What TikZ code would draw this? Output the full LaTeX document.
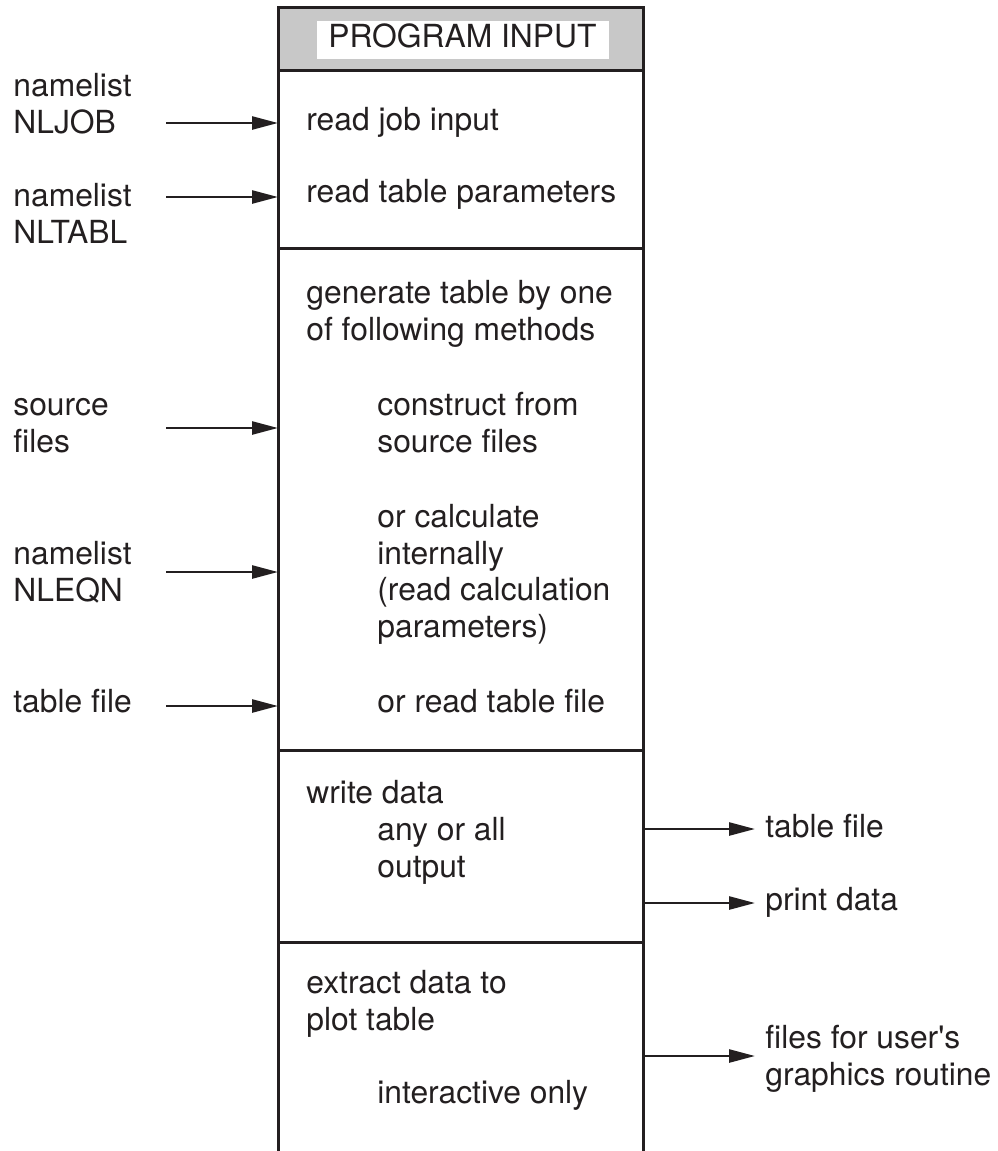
\documentclass[tikz,border=0pt]{standalone}
\usepackage{fontspec}
\setmainfont{TeX Gyre Heros}[Ligatures=TeXOff]
\usetikzlibrary{arrows.meta}
\definecolor{ink}{RGB}{35,31,32}
\definecolor{hdrgray}{RGB}{200,200,200}
\begin{document}
\begin{tikzpicture}[x=0.5pt,y=-0.5pt,
  % multi-line texts are placed by the baseline of their last line
  txt/.style={anchor=base west, inner sep=0pt, align=left,
    font=\fontsize{15.9}{18.25}\selectfont, text=ink},
  rule/.style={line width=1.5pt, draw=ink},
  arr/.style={line width=1.3pt, draw=ink,
    -{Triangle[length=13pt,width=6.5pt]}}]
\useasboundingbox (0,0) rectangle (997,1151);

% frame edges
\coordinate (L) at (278,0);
\coordinate (R) at (643,0);

% header band
\fill[hdrgray] (278,7) rectangle (643,70);
\fill[white] (317,21) rectangle (609,59);
\node[txt] (title) at (328,47) {PROGRAM INPUT};

% outline and section rules
\draw[rule] (278,1175) -- (278,7) -- (643,7) -- (643,1175);
\draw[rule] (278,70) -- (643,70);
\draw[rule] (278,248) -- (643,248);
\draw[rule] (278,750) -- (643,750);
\draw[rule] (278,942) -- (643,942);

% inputs on the left
\node[txt] (nljob)  at (13,133) {namelist\\NLJOB};
\node[txt] (nltabl) at (13,243) {namelist\\NLTABL};
\node[txt] (srcin)  at (13,452) {source\\files};
\node[txt] (nleqn)  at (13,601) {namelist\\NLEQN};
\node[txt] (tabin)  at (13,712) {table file};

\coordinate (a1) at (166,123);
\coordinate (a2) at (166,197);
\coordinate (a3) at (166,428);
\coordinate (a4) at (166,572);
\coordinate (a5) at (166,706);
\foreach \c in {a1,a2,a3,a4,a5}
  \draw[arr] (\c) -- (\c -| L);

% steps inside the frame
\node[txt] (s1) at (306,130) {read job input};
\node[txt] (s2) at (306,202) {read table parameters};
\node[txt] (s3) at (306,340) {generate table by one\\of following methods};
\node[txt] (s4) at (377,452) {construct from\\source files};
\node[txt] (s5) at (377,637) {or calculate\\internally\\(read calculation\\parameters)};
\node[txt] (s6) at (377,712) {or read table file};
\node[txt] (s7) at (306,803) {write data};
\node[txt] (s8) at (377,877) {any or all\\output};
\node[txt] (s9) at (306,1030) {extract data to\\plot table};
\node[txt] (s10) at (377,1103) {interactive only};

% outputs on the right
\coordinate (b1) at (755,829);
\coordinate (b2) at (755,903);
\coordinate (b3) at (755,1056);
\foreach \c in {b1,b2,b3}
  \draw[arr] (\c -| R) -- (\c);

\node[txt] (tabout) at (765,837)  {table file};
\node[txt] (prnout) at (765,910)  {print data};
\node[txt] (grfout) at (765,1085) {files for user's\\graphics routine};
\end{tikzpicture}
\end{document}
